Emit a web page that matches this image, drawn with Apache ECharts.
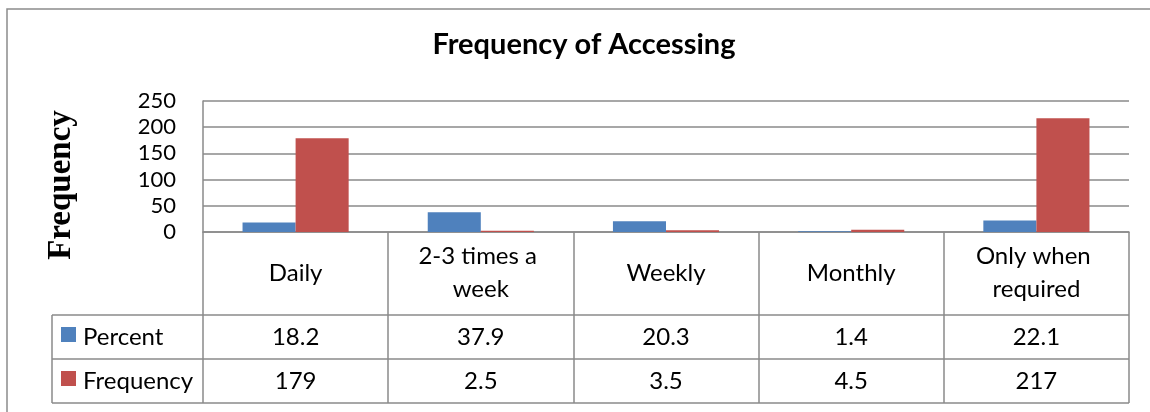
<!DOCTYPE html>
<html>
<head>
<meta charset="utf-8">
<script src="https://cdn.jsdelivr.net/npm/echarts@6/dist/echarts.min.js"></script>
<style>
html,body{margin:0;padding:0;background:#fff;}
#c{width:1150px;height:412px;}
</style>
</head>
<body>
<div id="c"></div>
<script>
const categories = ['Daily', '2-3 times a week', 'Weekly', 'Monthly', 'Only when required'];
const percent = [18.2, 37.9, 20.3, 1.4, 22.1];
const frequency = [179, 2.5, 3.5, 4.5, 217];
const yTicks = { min: 0, max: 250, interval: 50 };
const seriesNames = ['Percent', 'Frequency'];
const colors = ['#4F81BD', '#C0504D'];

const FONT = 'Lato';
const LINE = '#8a8a8a';
const TSIZE = 24;
const gridRect = { left: 203, right: 21, top: 101, bottom: 180 };

const chart = echarts.init(document.getElementById('c'), null, { renderer: 'canvas' });

const hiddenY = (gi) => ({ type: 'value', gridIndex: gi, show: false, min: 0, max: 1 });
const tableAxis = (gi, arr, margin) => ({
  type: 'category', gridIndex: gi, data: categories, position: 'bottom',
  axisLine: { show: false }, axisTick: { show: false }, splitLine: { show: false },
  axisLabel: {
    interval: 0, margin: margin, verticalAlign: 'middle',
    fontFamily: FONT, fontSize: TSIZE, color: '#000',
    formatter: (v, i) => String(arr[i])
  }
});

const option = {
  animation: false,
  grid: [
    Object.assign({}, gridRect),
    Object.assign({}, gridRect),
    Object.assign({}, gridRect)
  ],
  xAxis: [
    {
      type: 'category', gridIndex: 0, data: categories,
      axisLine: { show: true, lineStyle: { color: LINE, width: 1.5 } },
      axisTick: { show: true, length: 171, alignWithLabel: false, lineStyle: { color: LINE, width: 1.5 } },
      axisLabel: {
        interval: 0, margin: 41, verticalAlign: 'middle',
        fontFamily: FONT, fontSize: TSIZE, color: '#000',
        width: 160, overflow: 'break', lineHeight: 33, align: 'center'
      }
    },
    tableAxis(1, percent, 105),
    tableAxis(2, frequency, 149)
  ],
  yAxis: [
    {
      type: 'value', gridIndex: 0, min: yTicks.min, max: yTicks.max, interval: yTicks.interval,
      axisLine: { show: true, lineStyle: { color: LINE, width: 1.5 } },
      axisTick: { show: false },
      splitLine: { show: true, lineStyle: { color: LINE, width: 1.5 } },
      axisLabel: { margin: 27, fontFamily: FONT, fontSize: 22, color: '#000' }
    },
    hiddenY(1),
    hiddenY(2)
  ],
  series: [
    {
      name: seriesNames[0], type: 'bar', data: percent, xAxisIndex: 0, yAxisIndex: 0,
      itemStyle: { color: colors[0] }, barGap: '0%', barCategoryGap: '42.7%'
    },
    {
      name: seriesNames[1], type: 'bar', data: frequency, xAxisIndex: 0, yAxisIndex: 0,
      itemStyle: { color: colors[1] }, barGap: '0%', barCategoryGap: '42.7%'
    }
  ],
  graphic: [
    { type: 'rect', shape: { x: 7, y: 9, width: 1300, height: 600 }, style: { fill: 'none', stroke: '#8c8c8c', lineWidth: 1.5 }, silent: true },
    { type: 'text', x: 584, y: 45, style: { text: 'Frequency of Accessing', fontFamily: FONT, fontWeight: 'bold', fontSize: 29, fill: '#000', align: 'center', verticalAlign: 'middle' } },
    { type: 'text', x: 61, y: 185, rotation: Math.PI / 2, style: { text: 'Frequency', fontFamily: 'Liberation Serif', fontWeight: 'bold', fontSize: 33, fill: '#000', align: 'center', verticalAlign: 'middle' } },
    { type: 'line', shape: { x1: 52, y1: 315, x2: 1129, y2: 315 }, style: { stroke: LINE, lineWidth: 1.5 } },
    { type: 'line', shape: { x1: 52, y1: 359, x2: 1129, y2: 359 }, style: { stroke: LINE, lineWidth: 1.5 } },
    { type: 'line', shape: { x1: 52, y1: 403, x2: 1129, y2: 403 }, style: { stroke: LINE, lineWidth: 1.5 } },
    { type: 'line', shape: { x1: 52, y1: 315, x2: 52, y2: 403 }, style: { stroke: LINE, lineWidth: 1.5 } },
    { type: 'rect', shape: { x: 61, y: 327, width: 15, height: 15 }, style: { fill: colors[0] } },
    { type: 'text', x: 83, y: 337, style: { text: seriesNames[0], fontFamily: FONT, fontSize: TSIZE, fill: '#000', verticalAlign: 'middle' } },
    { type: 'rect', shape: { x: 61, y: 371, width: 15, height: 15 }, style: { fill: colors[1] } },
    { type: 'text', x: 83, y: 381, style: { text: seriesNames[1], fontFamily: FONT, fontSize: TSIZE, fill: '#000', verticalAlign: 'middle' } }
  ]
};
chart.setOption(option);
</script>
</body>
</html>
